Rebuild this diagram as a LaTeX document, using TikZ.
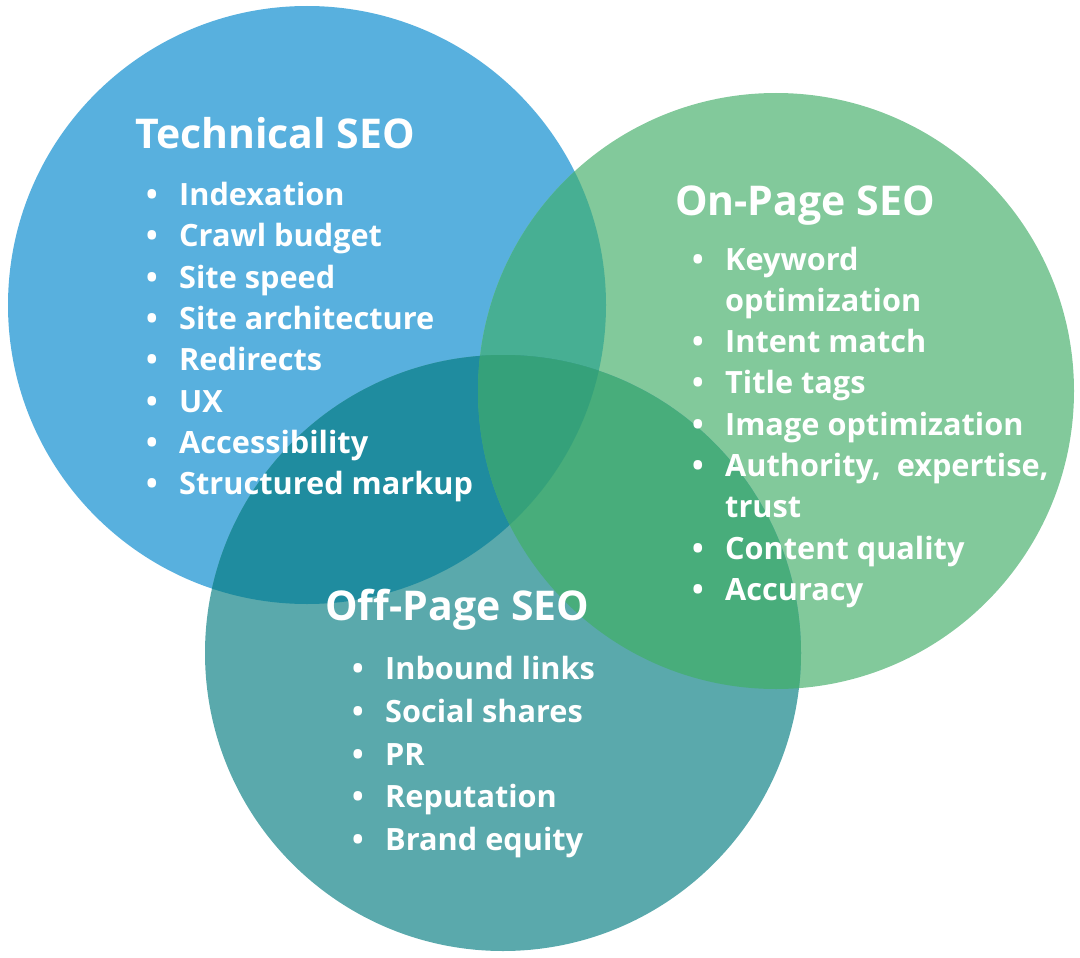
\documentclass[tikz,border=0pt]{standalone}
\usepackage{fontspec}
\setmainfont{Open Sans}
\definecolor{cblue}{HTML}{58B0DE}
\definecolor{cgreen}{HTML}{82C99B}
\definecolor{cteal}{HTML}{5AA9AC}
\definecolor{cbt}{HTML}{1F8C9F}
\definecolor{cbg}{HTML}{47AF93}
\definecolor{cgt}{HTML}{48AD7B}
\definecolor{call}{HTML}{35A17A}
\tikzset{
  title/.style={anchor=base west, inner sep=0pt, text=white, font=\fontsize{41}{41}\selectfont\bfseries},
  item/.style={anchor=base west, inner sep=0pt, text=white, font=\fontsize{30.7}{30.7}\selectfont\bfseries},
}
\newcommand{\bul}[1]{\makebox[33pt][l]{•}#1}
\begin{document}
\begin{tikzpicture}[x=1pt,y=-1pt]
\useasboundingbox (0,0) rectangle (1080,958);
\coordinate (T) at (307,305);
\coordinate (G) at (776,391);
\coordinate (O) at (503,653);
\def\rT{299pt}\def\rG{298pt}\def\rO{298pt}
\fill[cblue] (T) circle (\rT);
\fill[cgreen] (G) circle (\rG);
\fill[cteal] (O) circle (\rO);
\begin{scope}\clip (T) circle (\rT); \fill[cbg] (G) circle (\rG); \end{scope}
\begin{scope}\clip (T) circle (\rT); \fill[cbt] (O) circle (\rO); \end{scope}
\begin{scope}\clip (G) circle (\rG); \fill[cgt] (O) circle (\rO); \end{scope}
\begin{scope}\clip (T) circle (\rT); \clip (G) circle (\rG); \fill[call] (O) circle (\rO); \end{scope}

% Technical SEO
\node[title] (tt) at (135,148) {Technical SEO};
\node[item] (t1) at (146,205.5) {\bul{Indexation}};
\node[item] (t2) at (146,246.8) {\bul{Crawl budget}};
\node[item] (t3) at (146,288.1) {\bul{Site speed}};
\node[item] (t4) at (146,329.4) {\bul{Site architecture}};
\node[item] (t5) at (146,370.7) {\bul{Redirects}};
\node[item] (t6) at (146,412.0) {\bul{UX}};
\node[item] (t7) at (146,453.3) {\bul{Accessibility}};
\node[item] (t8) at (146,494.6) {\bul{Structured markup}};

% On-Page SEO
\node[title] (ot) at (675,215) {On-Page SEO};
\node[item] (o1) at (692,270.0) {\bul{Keyword}};
\node[item] (o1b) at (725,311.3) {optimization};
\node[item] (o2) at (692,352.6) {\bul{Intent match}};
\node[item] (o3) at (692,393.9) {\bul{Title tags}};
\node[item] (o4) at (692,435.2) {\bul{Image optimization}};
\node[item] (o5) at (692,476.5) {\bul{Authority,\ \ expertise,}};
\node[item] (o5b) at (725,517.8) {trust};
\node[item] (o6) at (692,559.1) {\bul{Content quality}};
\node[item] (o7) at (692,600.4) {\bul{Accuracy}};

% Off-Page SEO
\node[title] (ft) at (325,620) {Off-Page SEO};
\node[item] (f1) at (352,679.5) {\bul{Inbound links}};
\node[item] (f2) at (352,722.3) {\bul{Social shares}};
\node[item] (f3) at (352,765.1) {\bul{PR}};
\node[item] (f4) at (352,807.9) {\bul{Reputation}};
\node[item] (f5) at (352,850.7) {\bul{Brand equity}};
\end{tikzpicture}
\end{document}
